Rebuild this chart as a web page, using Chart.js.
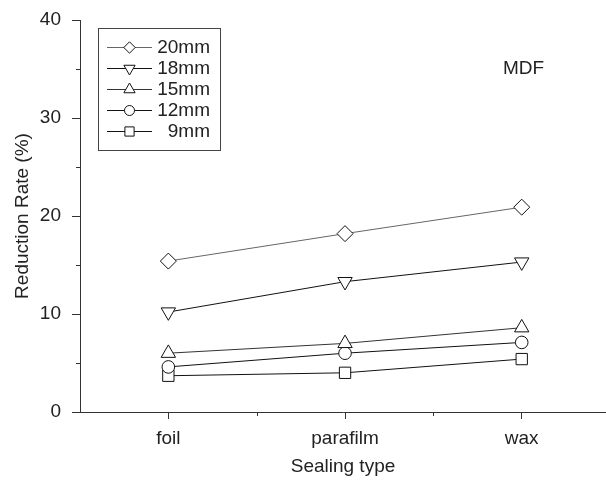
<!DOCTYPE html>
<html>
<head>
<meta charset="utf-8">
<script src="https://cdn.jsdelivr.net/npm/chart.js@4/dist/chart.umd.min.js"></script>
<style>
  html, body { margin: 0; padding: 0; background: #fff; }
  #wrap { width: 606px; height: 480px; position: relative; }
</style>
</head>
<body>
<div id="wrap"><canvas id="c"></canvas></div>
<script>
const categories = ['foil', 'parafilm', 'wax'];
const seriesLabels = ['20mm', '18mm', '15mm', '12mm', '9mm'];
const s20 = [15.4, 18.2, 20.9];
const s18 = [10.2, 13.3, 15.3];
const s15 = [6.0, 7.0, 8.6];
const s12 = [4.6, 6.0, 7.1];
const s9 = [3.7, 4.0, 5.4];
const yTicks = [0, 10, 20, 30, 40];
const yMinorTicks = [5, 15, 25, 35];
const xMinorTicks = [0.5, 1.5];
const panelLabel = 'MDF';

const FONT = '"Liberation Sans", Arial, sans-serif';
const seriesValues = [s20, s18, s15, s12, s9];
const markerStyles = ['rectRot', 'triangle', 'triangle', 'circle', 'rect'];
const markerRot = [0, 180, 0, 0, 0];
const markerRadius = [8, 8.3, 8.3, 6.3, 8];
const legendRadius = [5.7, 6.5, 6.5, 5, 6.5];
const lineColors = ['#666', '#111', '#333', '#111', '#111'];

const datasets = seriesLabels.map((lab, i) => ({
  label: lab,
  data: seriesValues[i].map((v, j) => ({ x: j, y: v })),
  borderColor: lineColors[i],
  borderWidth: 1,
  pointStyle: markerStyles[i],
  pointRotation: markerRot[i],
  pointRadius: markerRadius[i],
  pointHoverRadius: markerRadius[i],
  pointBorderColor: '#111',
  pointBorderWidth: 1,
  pointBackgroundColor: '#fff',
  fill: false,
  tension: 0
}));

function drawMarker(ctx, style, rot, r, x, y) {
  ctx.save();
  ctx.translate(x, y);
  ctx.rotate(rot * Math.PI / 180);
  ctx.beginPath();
  if (style === 'circle') {
    ctx.arc(0, 0, r, 0, Math.PI * 2);
  } else if (style === 'rect') {
    const s = r * Math.SQRT1_2;
    ctx.rect(-s, -s, 2 * s, 2 * s);
  } else if (style === 'rectRot') {
    ctx.moveTo(-r, 0); ctx.lineTo(0, -r); ctx.lineTo(r, 0); ctx.lineTo(0, r);
    ctx.closePath();
  } else if (style === 'triangle') {
    for (let k = 0; k < 3; k++) {
      const a = -Math.PI / 2 + k * 2 * Math.PI / 3;
      const px = Math.cos(a) * r, py = Math.sin(a) * r;
      if (k === 0) ctx.moveTo(px, py); else ctx.lineTo(px, py);
    }
    ctx.closePath();
  }
  ctx.fillStyle = '#fff';
  ctx.fill();
  ctx.strokeStyle = '#111';
  ctx.lineWidth = 1;
  ctx.stroke();
  ctx.restore();
}

const extrasPlugin = {
  id: 'extras',
  afterDraw(chart) {
    const ctx = chart.ctx;
    const xs = chart.scales.x, ys = chart.scales.y;
    ctx.save();
    ctx.strokeStyle = '#333';
    ctx.lineWidth = 1;
    yMinorTicks.forEach(v => {
      const py = Math.round(ys.getPixelForValue(v)) + 0.5;
      ctx.beginPath(); ctx.moveTo(xs.left - 4, py); ctx.lineTo(xs.left, py); ctx.stroke();
    });
    xMinorTicks.forEach(v => {
      const px = Math.round(xs.getPixelForValue(v)) + 0.5;
      ctx.beginPath(); ctx.moveTo(px, ys.bottom); ctx.lineTo(px, ys.bottom + 4); ctx.stroke();
    });
    ctx.fillStyle = '#222';
    ctx.font = '19px ' + FONT;
    ctx.textAlign = 'left';
    ctx.textBaseline = 'middle';
    ctx.fillText(panelLabel, 503, 69);
    const bx = 98.5, by = 28.5, bw = 122, bh = 122;
    ctx.strokeStyle = '#444';
    ctx.strokeRect(bx, by, bw, bh);
    chart.data.datasets.forEach((ds, i) => {
      const ry = 47 + i * 21;
      ctx.strokeStyle = ds.borderColor;
      ctx.lineWidth = 1;
      ctx.beginPath(); ctx.moveTo(107, ry + 0.5); ctx.lineTo(152, ry + 0.5); ctx.stroke();
      drawMarker(ctx, ds.pointStyle, ds.pointRotation, legendRadius[i], 129.5, ry + 0.5);
      ctx.fillStyle = '#222';
      ctx.font = '19px ' + FONT;
      ctx.textAlign = 'right';
      ctx.textBaseline = 'middle';
      ctx.fillText(ds.label, 210, ry + 1);
    });
    ctx.restore();
  }
};

new Chart(document.getElementById('c'), {
  type: 'line',
  data: { datasets },
  options: {
    responsive: true,
    maintainAspectRatio: false,
    animation: false,
    layout: { autoPadding: false, padding: { top: 0, right: 0, bottom: 0, left: 0 } },
    plugins: { legend: { display: false }, tooltip: { enabled: false } },
    scales: {
      x: {
        type: 'linear',
        min: -0.5,
        max: 2.477,
        afterBuildTicks: (scale) => { scale.ticks = categories.map((c, i) => ({ value: i })); },
        afterFit: (scale) => { scale.height = 68; },
        ticks: {
          callback: (v) => categories[v],
          font: { family: FONT, size: 19 },
          color: '#222',
          padding: 8,
          maxRotation: 0
        },
        grid: { drawOnChartArea: false, drawTicks: true, tickLength: 7, color: '#333', tickColor: '#333' },
        border: { display: true, color: '#333', width: 1 },
        title: { display: true, text: 'Sealing type', font: { family: FONT, size: 19 }, color: '#222', padding: { top: 2, bottom: 2 } }
      },
      y: {
        type: 'linear',
        min: 0,
        max: 40,
        afterBuildTicks: (scale) => { scale.ticks = yTicks.map(v => ({ value: v })); },
        afterFit: (scale) => { scale.width = 80; scale.paddingTop = 20; },
        ticks: {
          font: { family: FONT, size: 19 },
          color: '#222',
          padding: 11
        },
        grid: { drawOnChartArea: false, drawTicks: true, tickLength: 8, color: '#333', tickColor: '#333' },
        border: { display: true, color: '#333', width: 1 },
        title: { display: true, text: 'Reduction Rate (%)', font: { family: FONT, size: 19 }, color: '#222', padding: { top: 11, bottom: 5 } }
      }
    }
  },
  plugins: [extrasPlugin]
});
</script>
</body>
</html>
